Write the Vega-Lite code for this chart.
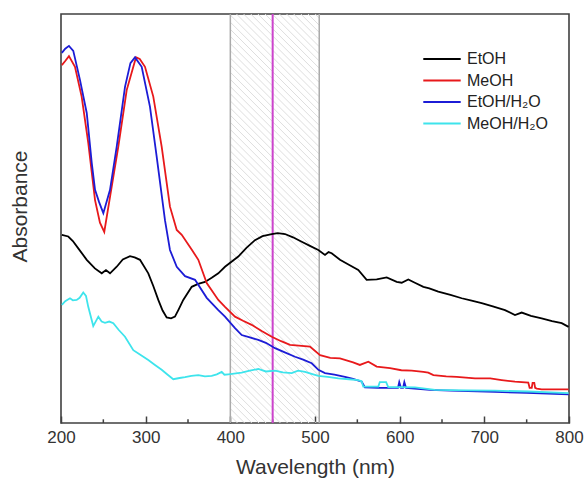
{
  "$schema": "https://vega.github.io/schema/vega-lite/v6.json",
  "autosize": {"type": "none"},
  "padding": {"left": 61, "top": 14, "right": 15, "bottom": 59},
  "width": 508,
  "height": 409,
  "config": {
    "font": "Liberation Sans",
    "view": {"stroke": "#404040", "strokeWidth": 1.6}
  },
  "datasets": {
    "hatch": [
      {"c":1.75,"e":-19.99},{"c":3.5,"e":-18.24},{"c":5.25,"e":-16.49},{"c":7,"e":-14.74},{"c":8.75,"e":-12.99},{"c":10.5,"e":-11.24},{"c":12.25,"e":-9.49},{"c":14,"e":-7.74},{"c":15.75,"e":-5.99},{"c":17.5,"e":-4.24},{"c":19.25,"e":-2.49},{"c":21,"e":-0.74},{"c":22.75,"e":1.01},{"c":24.5,"e":2.76},{"c":26.25,"e":4.51},{"c":28,"e":6.26},{"c":29.75,"e":8.01},{"c":31.5,"e":9.76},{"c":33.25,"e":11.51},{"c":35,"e":13.26},{"c":36.75,"e":15.01},{"c":38.5,"e":16.76},{"c":40.25,"e":18.51},{"c":42,"e":20.26},{"c":43.75,"e":22.01},{"c":45.5,"e":23.76},{"c":47.25,"e":25.51},{"c":49,"e":27.26},{"c":50.75,"e":29.01},{"c":52.5,"e":30.76},{"c":54.25,"e":32.51},{"c":56,"e":34.26},{"c":57.75,"e":36.01},{"c":59.5,"e":37.76},{"c":61.25,"e":39.51},{"c":63,"e":41.26},{"c":64.75,"e":43.01},{"c":66.5,"e":44.76},{"c":68.25,"e":46.51},{"c":70,"e":48.26},{"c":71.75,"e":50.01},{"c":73.5,"e":51.76},{"c":75.25,"e":53.51},{"c":77,"e":55.26},{"c":78.75,"e":57.01},{"c":80.5,"e":58.76},{"c":82.25,"e":60.51},{"c":84,"e":62.26},{"c":85.75,"e":64.01},{"c":87.5,"e":65.76},{"c":89.25,"e":67.51},{"c":91,"e":69.26},{"c":92.75,"e":71.01},{"c":94.5,"e":72.76},{"c":96.25,"e":74.51},{"c":98,"e":76.26},{"c":99.75,"e":78.01},{"c":101.5,"e":79.76},{"c":103.25,"e":81.51},{"c":105,"e":83.26},{"c":106.75,"e":85.01},{"c":108.5,"e":86.76},{"c":110.25,"e":88.51},{"c":112,"e":90.26},{"c":113.75,"e":92.01},{"c":115.5,"e":93.76},{"c":117.25,"e":95.51},{"c":119,"e":97.26},{"c":120.75,"e":99.01}
    ],
    "minor": [{"w":250},{"w":350},{"w":450},{"w":550},{"w":650},{"w":750}],
    "curves": [
      {"s":"EtOH","w":201,"a":46.0},{"s":"EtOH","w":208.6,"a":45.6},{"s":"EtOH","w":214,"a":44.5},{"s":"EtOH","w":220.4,"a":42.7},{"s":"EtOH","w":230.4,"a":39.9},{"s":"EtOH","w":240,"a":37.8},{"s":"EtOH","w":248.1,"a":36.6},{"s":"EtOH","w":253.1,"a":37.4},{"s":"EtOH","w":257.9,"a":36.6},{"s":"EtOH","w":265.8,"a":38.2},{"s":"EtOH","w":273,"a":40.0},{"s":"EtOH","w":281.5,"a":40.8},{"s":"EtOH","w":287,"a":40.5},{"s":"EtOH","w":293.3,"a":39.9},{"s":"EtOH","w":303.1,"a":36.6},{"s":"EtOH","w":309,"a":33.5},{"s":"EtOH","w":314.9,"a":30.1},{"s":"EtOH","w":320,"a":27.5},{"s":"EtOH","w":324.8,"a":25.8},{"s":"EtOH","w":330,"a":25.6},{"s":"EtOH","w":334.6,"a":26.0},{"s":"EtOH","w":339,"a":27.8},{"s":"EtOH","w":344.4,"a":30.1},{"s":"EtOH","w":354.4,"a":33.3},{"s":"EtOH","w":362,"a":34.0},{"s":"EtOH","w":370.1,"a":34.5},{"s":"EtOH","w":378,"a":35.5},{"s":"EtOH","w":385.8,"a":36.6},{"s":"EtOH","w":393.7,"a":38.2},{"s":"EtOH","w":409.4,"a":40.7},{"s":"EtOH","w":419,"a":42.8},{"s":"EtOH","w":429.1,"a":44.7},{"s":"EtOH","w":438,"a":45.7},{"s":"EtOH","w":448.9,"a":46.2},{"s":"EtOH","w":456,"a":46.4},{"s":"EtOH","w":464.6,"a":46.2},{"s":"EtOH","w":474,"a":45.4},{"s":"EtOH","w":484.3,"a":44.3},{"s":"EtOH","w":494,"a":43.3},{"s":"EtOH","w":503.9,"a":42.3},{"s":"EtOH","w":511.8,"a":41.1},{"s":"EtOH","w":516,"a":41.8},{"s":"EtOH","w":519.7,"a":41.5},{"s":"EtOH","w":529.5,"a":39.9},{"s":"EtOH","w":540,"a":38.7},{"s":"EtOH","w":551.1,"a":37.4},{"s":"EtOH","w":561,"a":35.0},{"s":"EtOH","w":572.9,"a":35.1},{"s":"EtOH","w":584.7,"a":35.6},{"s":"EtOH","w":596.5,"a":34.5},{"s":"EtOH","w":602.4,"a":34.3},{"s":"EtOH","w":610.2,"a":35.1},{"s":"EtOH","w":618,"a":34.3},{"s":"EtOH","w":628,"a":33.3},{"s":"EtOH","w":635,"a":32.9},{"s":"EtOH","w":645.6,"a":32.1},{"s":"EtOH","w":660,"a":31.3},{"s":"EtOH","w":673.3,"a":30.5},{"s":"EtOH","w":685,"a":29.9},{"s":"EtOH","w":696.9,"a":29.3},{"s":"EtOH","w":710,"a":28.5},{"s":"EtOH","w":724.4,"a":27.6},{"s":"EtOH","w":736.2,"a":26.4},{"s":"EtOH","w":744.1,"a":27.0},{"s":"EtOH","w":755,"a":26.2},{"s":"EtOH","w":767.7,"a":25.6},{"s":"EtOH","w":780,"a":24.9},{"s":"EtOH","w":791.4,"a":24.4},{"s":"EtOH","w":799.5,"a":23.5},
      {"s":"MeOH","w":201,"a":87.5},{"s":"MeOH","w":205,"a":88.5},{"s":"MeOH","w":209.4,"a":89.7},{"s":"MeOH","w":216.5,"a":87.1},{"s":"MeOH","w":224.4,"a":79.8},{"s":"MeOH","w":232.2,"a":68.5},{"s":"MeOH","w":240.2,"a":54.5},{"s":"MeOH","w":246,"a":49.0},{"s":"MeOH","w":251.1,"a":46.7},{"s":"MeOH","w":257.9,"a":55.3},{"s":"MeOH","w":267.7,"a":67.6},{"s":"MeOH","w":277.6,"a":81.4},{"s":"MeOH","w":288.6,"a":89.4},{"s":"MeOH","w":293,"a":89.0},{"s":"MeOH","w":299.2,"a":87.1},{"s":"MeOH","w":309,"a":79.8},{"s":"MeOH","w":318.9,"a":67.6},{"s":"MeOH","w":328.7,"a":52.9},{"s":"MeOH","w":336.7,"a":47.2},{"s":"MeOH","w":342.6,"a":46.0},{"s":"MeOH","w":354.7,"a":42.3},{"s":"MeOH","w":362.2,"a":39.9},{"s":"MeOH","w":372.1,"a":34.2},{"s":"MeOH","w":385.8,"a":30.1},{"s":"MeOH","w":393.7,"a":28.4},{"s":"MeOH","w":405.5,"a":26.0},{"s":"MeOH","w":415,"a":25.0},{"s":"MeOH","w":425.2,"a":24.0},{"s":"MeOH","w":437,"a":22.5},{"s":"MeOH","w":448.9,"a":21.1},{"s":"MeOH","w":460,"a":20.0},{"s":"MeOH","w":470.5,"a":19.1},{"s":"MeOH","w":481,"a":18.9},{"s":"MeOH","w":494,"a":18.7},{"s":"MeOH","w":506,"a":16.6},{"s":"MeOH","w":518,"a":15.9},{"s":"MeOH","w":529.5,"a":15.8},{"s":"MeOH","w":545,"a":14.8},{"s":"MeOH","w":553,"a":14.2},{"s":"MeOH","w":563,"a":15.0},{"s":"MeOH","w":572.9,"a":13.8},{"s":"MeOH","w":588.6,"a":13.4},{"s":"MeOH","w":602,"a":12.9},{"s":"MeOH","w":614.2,"a":12.8},{"s":"MeOH","w":628,"a":12.5},{"s":"MeOH","w":633.8,"a":12.3},{"s":"MeOH","w":639.8,"a":11.7},{"s":"MeOH","w":655,"a":11.4},{"s":"MeOH","w":667.4,"a":11.3},{"s":"MeOH","w":689,"a":10.9},{"s":"MeOH","w":707,"a":10.9},{"s":"MeOH","w":720.5,"a":10.5},{"s":"MeOH","w":736.2,"a":10.1},{"s":"MeOH","w":751.9,"a":9.9},{"s":"MeOH","w":753.5,"a":8.6},{"s":"MeOH","w":756,"a":8.6},{"s":"MeOH","w":757,"a":9.8},{"s":"MeOH","w":759,"a":9.8},{"s":"MeOH","w":760,"a":8.6},{"s":"MeOH","w":762,"a":8.4},{"s":"MeOH","w":767.7,"a":8.2},{"s":"MeOH","w":780,"a":8.2},{"s":"MeOH","w":799.5,"a":8.2},
      {"s":"EtOH/H₂O","w":201,"a":90.5},{"s":"EtOH/H₂O","w":205,"a":91.5},{"s":"EtOH/H₂O","w":209.4,"a":92.2},{"s":"EtOH/H₂O","w":214.5,"a":91.0},{"s":"EtOH/H₂O","w":222.4,"a":83.9},{"s":"EtOH/H₂O","w":230.4,"a":75.8},{"s":"EtOH/H₂O","w":236.3,"a":63.6},{"s":"EtOH/H₂O","w":240.2,"a":57.0},{"s":"EtOH/H₂O","w":245,"a":54.0},{"s":"EtOH/H₂O","w":250,"a":51.3},{"s":"EtOH/H₂O","w":257.9,"a":57.0},{"s":"EtOH/H₂O","w":265.8,"a":67.6},{"s":"EtOH/H₂O","w":275.6,"a":82.2},{"s":"EtOH/H₂O","w":282,"a":88.0},{"s":"EtOH/H₂O","w":287.4,"a":89.4},{"s":"EtOH/H₂O","w":295.3,"a":87.1},{"s":"EtOH/H₂O","w":305.1,"a":77.3},{"s":"EtOH/H₂O","w":313,"a":65.1},{"s":"EtOH/H₂O","w":322.8,"a":49.6},{"s":"EtOH/H₂O","w":328.7,"a":42.3},{"s":"EtOH/H₂O","w":336.7,"a":38.2},{"s":"EtOH/H₂O","w":346.5,"a":35.9},{"s":"EtOH/H₂O","w":358.3,"a":35.0},{"s":"EtOH/H₂O","w":372.1,"a":30.6},{"s":"EtOH/H₂O","w":385.8,"a":27.6},{"s":"EtOH/H₂O","w":393.7,"a":26.0},{"s":"EtOH/H₂O","w":405.5,"a":23.2},{"s":"EtOH/H₂O","w":413.4,"a":21.5},{"s":"EtOH/H₂O","w":422,"a":21.0},{"s":"EtOH/H₂O","w":433,"a":20.3},{"s":"EtOH/H₂O","w":442,"a":19.6},{"s":"EtOH/H₂O","w":452.8,"a":18.3},{"s":"EtOH/H₂O","w":465,"a":17.2},{"s":"EtOH/H₂O","w":476.4,"a":16.2},{"s":"EtOH/H₂O","w":486,"a":15.5},{"s":"EtOH/H₂O","w":496.1,"a":14.6},{"s":"EtOH/H₂O","w":504,"a":13.0},{"s":"EtOH/H₂O","w":511.8,"a":12.2},{"s":"EtOH/H₂O","w":523,"a":11.8},{"s":"EtOH/H₂O","w":535.4,"a":11.3},{"s":"EtOH/H₂O","w":545,"a":10.8},{"s":"EtOH/H₂O","w":555.2,"a":10.1},{"s":"EtOH/H₂O","w":559,"a":8.7},{"s":"EtOH/H₂O","w":575,"a":8.6},{"s":"EtOH/H₂O","w":590,"a":8.6},{"s":"EtOH/H₂O","w":598,"a":8.6},{"s":"EtOH/H₂O","w":599.5,"a":10.0},{"s":"EtOH/H₂O","w":601.5,"a":8.6},{"s":"EtOH/H₂O","w":604,"a":8.6},{"s":"EtOH/H₂O","w":605.5,"a":10.0},{"s":"EtOH/H₂O","w":607.5,"a":8.6},{"s":"EtOH/H₂O","w":635.8,"a":8.1},{"s":"EtOH/H₂O","w":660,"a":7.9},{"s":"EtOH/H₂O","w":712.6,"a":7.6},{"s":"EtOH/H₂O","w":750,"a":7.4},{"s":"EtOH/H₂O","w":799.5,"a":7.0},
      {"s":"MeOH/H₂O","w":201,"a":28.9},{"s":"MeOH/H₂O","w":205,"a":29.8},{"s":"MeOH/H₂O","w":210.6,"a":30.5},{"s":"MeOH/H₂O","w":214,"a":30.0},{"s":"MeOH/H₂O","w":218.5,"a":30.1},{"s":"MeOH/H₂O","w":222,"a":30.6},{"s":"MeOH/H₂O","w":226.3,"a":31.9},{"s":"MeOH/H₂O","w":229.5,"a":31.1},{"s":"MeOH/H₂O","w":232.2,"a":28.4},{"s":"MeOH/H₂O","w":238.1,"a":23.7},{"s":"MeOH/H₂O","w":244.1,"a":26.0},{"s":"MeOH/H₂O","w":248,"a":24.8},{"s":"MeOH/H₂O","w":252,"a":24.5},{"s":"MeOH/H₂O","w":257,"a":24.8},{"s":"MeOH/H₂O","w":261.8,"a":24.4},{"s":"MeOH/H₂O","w":268,"a":22.8},{"s":"MeOH/H₂O","w":275.6,"a":21.1},{"s":"MeOH/H₂O","w":285.4,"a":17.8},{"s":"MeOH/H₂O","w":295,"a":16.5},{"s":"MeOH/H₂O","w":303.1,"a":15.4},{"s":"MeOH/H₂O","w":311,"a":14.2},{"s":"MeOH/H₂O","w":318.9,"a":13.0},{"s":"MeOH/H₂O","w":326,"a":11.8},{"s":"MeOH/H₂O","w":332.6,"a":10.7},{"s":"MeOH/H₂O","w":340,"a":11.0},{"s":"MeOH/H₂O","w":346.5,"a":11.2},{"s":"MeOH/H₂O","w":354,"a":11.5},{"s":"MeOH/H₂O","w":362.2,"a":11.7},{"s":"MeOH/H₂O","w":370,"a":11.4},{"s":"MeOH/H₂O","w":378,"a":11.5},{"s":"MeOH/H₂O","w":384,"a":11.9},{"s":"MeOH/H₂O","w":389.8,"a":12.5},{"s":"MeOH/H₂O","w":393,"a":11.8},{"s":"MeOH/H₂O","w":397.6,"a":11.9},{"s":"MeOH/H₂O","w":413.4,"a":12.3},{"s":"MeOH/H₂O","w":423,"a":12.8},{"s":"MeOH/H₂O","w":433,"a":13.2},{"s":"MeOH/H₂O","w":442,"a":12.6},{"s":"MeOH/H₂O","w":452.8,"a":12.8},{"s":"MeOH/H₂O","w":462,"a":12.4},{"s":"MeOH/H₂O","w":472.5,"a":12.2},{"s":"MeOH/H₂O","w":480,"a":12.8},{"s":"MeOH/H₂O","w":488.2,"a":12.5},{"s":"MeOH/H₂O","w":496,"a":12.0},{"s":"MeOH/H₂O","w":503.9,"a":11.5},{"s":"MeOH/H₂O","w":515,"a":11.3},{"s":"MeOH/H₂O","w":527.5,"a":10.9},{"s":"MeOH/H₂O","w":540,"a":10.7},{"s":"MeOH/H₂O","w":551.1,"a":10.5},{"s":"MeOH/H₂O","w":555,"a":10.2},{"s":"MeOH/H₂O","w":557,"a":8.9},{"s":"MeOH/H₂O","w":574.8,"a":8.9},{"s":"MeOH/H₂O","w":576.5,"a":10.0},{"s":"MeOH/H₂O","w":584,"a":10.0},{"s":"MeOH/H₂O","w":586.5,"a":8.8},{"s":"MeOH/H₂O","w":618.1,"a":8.7},{"s":"MeOH/H₂O","w":641.7,"a":8.1},{"s":"MeOH/H₂O","w":680,"a":8.0},{"s":"MeOH/H₂O","w":712.6,"a":7.9},{"s":"MeOH/H₂O","w":751.9,"a":7.7},{"s":"MeOH/H₂O","w":799.5,"a":7.3}
    ]
  },
  "encoding": {
    "x": {
      "type": "quantitative",
      "scale": {"domain": [200, 800], "nice": false},
      "axis": {
        "values": [200, 300, 400, 500, 600, 700, 800],
        "title": "Wavelength (nm)",
        "domain": false, "grid": false, "labelFlush": false,
        "tickSize": -7, "tickColor": "#404040", "tickWidth": 1.5,
        "labelFontSize": 17, "labelColor": "#333333", "labelPadding": 13,
        "titleFontSize": 21, "titleFontWeight": "normal", "titleColor": "#333333", "titlePadding": 11
      }
    },
    "y": {
      "type": "quantitative",
      "scale": {"domain": [0, 100], "nice": false},
      "axis": {
        "title": "Absorbance", "labels": false, "ticks": false, "domain": false, "grid": false,
        "titleFontSize": 21, "titleFontWeight": "normal", "titleColor": "#333333", "titlePadding": 31, "titleY": 192
      }
    }
  },
  "layer": [
    {
      "data": {"name": "hatch"},
      "mark": {"type": "rule", "clip": true, "color": "#dedede", "strokeWidth": 1},
      "encoding": {
        "x": {"datum": 400},
        "x2": {"datum": 505},
        "y": {"field": "c"},
        "y2": {"field": "e"}
      }
    },
    {
      "data": {"values": [{"w": 400}, {"w": 505}]},
      "mark": {"type": "rule", "color": "#aaaaaa", "strokeWidth": 1.5},
      "encoding": {
        "x": {"field": "w"}
      }
    },
    {
      "data": {"name": "minor"},
      "mark": {"type": "rule", "color": "#404040", "strokeWidth": 1.5},
      "encoding": {
        "x": {"field": "w"},
        "y": {"datum": 0},
        "y2": {"datum": 0.9}
      }
    },
    {
      "data": {"values": [{"w": 450}]},
      "mark": {"type": "rule", "color": "#cc44cc", "strokeWidth": 2},
      "encoding": {
        "x": {"field": "w"}
      }
    },
    {
      "data": {"name": "curves"},
      "mark": {"type": "line", "strokeWidth": 1.8, "clip": true},
      "encoding": {
        "x": {"field": "w"},
        "y": {"field": "a"},
        "color": {
          "field": "s", "type": "nominal",
          "scale": {
            "domain": ["EtOH", "MeOH", "EtOH/H₂O", "MeOH/H₂O"],
            "range": ["#000000", "#e8191b", "#1c1cd6", "#3ee4ec"]
          },
          "legend": {
            "title": null, "orient": "none", "legendX": 361, "legendY": 37,
            "symbolType": "stroke", "symbolSize": 1400, "symbolStrokeWidth": 2.2,
            "labelFontSize": 16, "labelColor": "#222222", "labelOffset": 5,
            "padding": 0, "clipHeight": 16, "rowPadding": 5.5
          }
        }
      }
    }
  ]
}
